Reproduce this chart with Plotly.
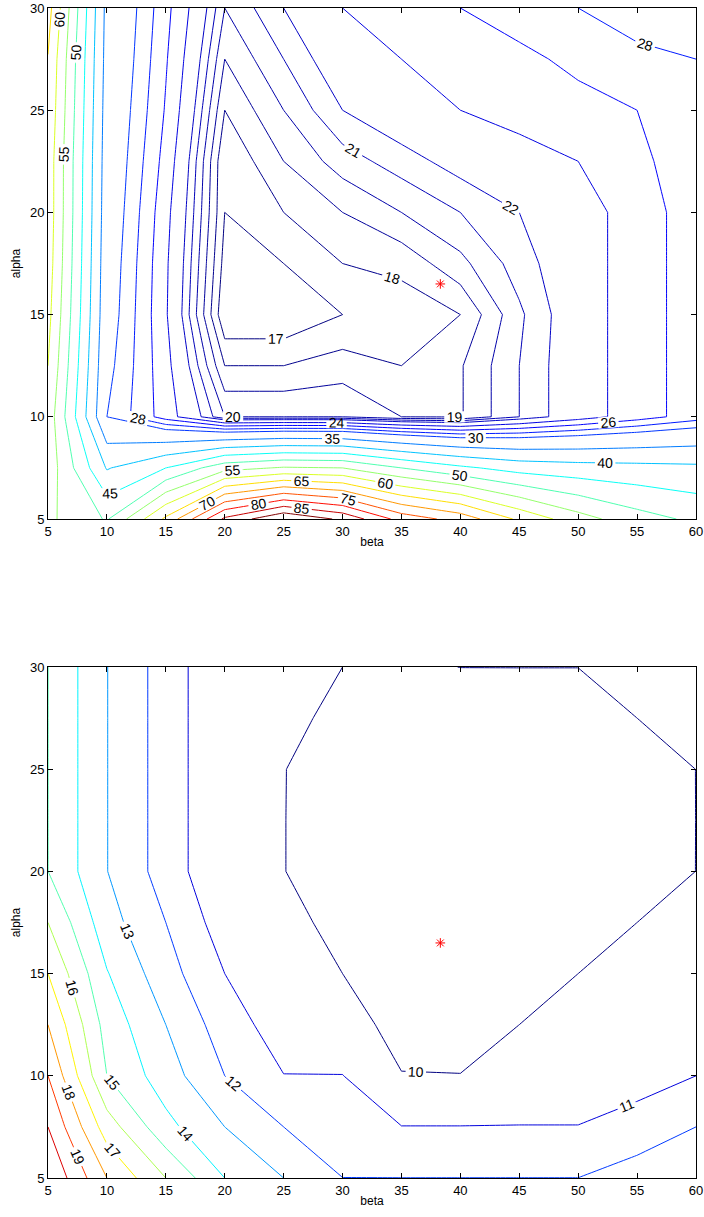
import plotly.graph_objects as go

# Parameter grid (columns = beta, rows = alpha)
beta = [5, 10, 15, 20, 25, 30, 35, 40, 45, 50, 55, 60]
alpha = [5, 7.5, 10, 12.5, 15, 17.5, 20, 22.5, 25, 27.5, 30]

# Upper panel: error surface, one row per alpha value (alpha = 5 first)
err_upper = [
    [56.0, 49.5, 66.0, 86.0, 94.7, 89.0, 78.0, 73.0, 64.0, 57.0, 52.0, 49.0],
    [58.0, 39.6, 45.0, 53.2, 55.5, 55.0, 50.0, 46.0, 43.0, 42.0, 41.5, 41.0],
    [58.0, 30.0, 25.0, 20.0, 20.0, 20.0, 19.0, 18.9, 21.0, 23.0, 25.0, 27.0],
    [60.0, 30.8, 24.6, 18.0, 18.0, 18.47, 18.0, 18.9, 21.0, 23.0, 25.0, 27.0],
    [61.5, 31.5, 24.2, 16.1, 16.1, 17.0, 17.4, 18.0, 20.8, 23.0, 25.0, 27.0],
    [62.5, 31.8, 24.3, 16.6, 17.0, 18.0, 18.3, 19.7, 21.5, 23.0, 25.0, 27.0],
    [63.0, 32.2, 24.6, 17.0, 18.0, 19.0, 20.0, 21.0, 22.0, 23.0, 25.0, 27.0],
    [63.0, 32.5, 25.2, 17.05, 19.0, 20.5, 21.5, 22.5, 23.2, 24.0, 25.6, 27.0],
    [64.0, 32.8, 25.8, 18.0, 20.0, 22.0, 23.0, 24.0, 24.7, 25.3, 26.0, 27.2],
    [64.8, 33.2, 26.2, 19.0, 21.0, 23.0, 24.0, 25.0, 25.5, 26.5, 27.5, 28.0],
    [67.0, 33.5, 26.6, 20.0, 22.0, 24.0, 25.0, 26.0, 27.0, 28.0, 29.0, 30.0],
]

# Lower panel: error surface, same layout
err_lower = [
    [20.95, 18.0, 16.0, 14.0, 13.0, 12.005, 12.005, 12.005, 12.005, 12.005, 12.4, 12.8],
    [20.0, 16.5, 14.3, 13.0, 12.0, 11.5, 11.02, 11.02, 11.02, 11.02, 11.5, 12.0],
    [19.0, 15.0, 13.47, 12.0, 11.02, 11.02, 10.02, 10.02, 10.5, 10.5, 10.5, 11.0],
    [18.0, 14.6, 13.0, 11.5, 10.5, 10.25, 9.8, 9.6, 10.0, 10.3, 10.5, 10.75],
    [17.0, 14.06, 12.4, 11.0, 10.5, 10.0, 9.6, 9.5, 9.7, 10.0, 10.3, 10.5],
    [16.0, 13.4, 12.0, 10.5, 10.5, 9.5, 9.5, 9.4, 9.5, 9.7, 10.0, 10.25],
    [15.005, 13.02, 11.55, 10.1, 10.02, 9.5, 9.3, 9.2, 9.3, 9.5, 9.7, 10.003],
    [15.005, 13.02, 11.55, 10.1, 10.02, 9.5, 9.3, 9.2, 9.3, 9.4, 9.6, 10.003],
    [15.005, 13.02, 11.55, 10.1, 10.02, 9.6, 9.4, 9.3, 9.4, 9.5, 9.7, 10.003],
    [15.005, 13.02, 11.55, 10.1, 10.1, 9.9, 9.6, 9.6, 9.7, 9.7, 10.0, 10.3],
    [15.005, 13.02, 11.55, 10.1, 10.15, 10.0, 9.9, 10.005, 10.005, 10.005, 10.3, 10.6],
]

# Contour level groups (start, end, step)
levels_upper = [(17, 22, 1), (24, 30, 2), (35, 90, 5)]
levels_lower = [(10, 20, 1)]
color_range_upper = (17, 90)
color_range_lower = (10, 21)

# Selected (beta, alpha) point
best_beta = [38.3]
best_alpha = [16.5]

FONT = "Liberation Sans, Arial, Helvetica, sans-serif"


def jet(v, lo, hi):
    """MATLAB-style jet colour for value v on the range [lo, hi]."""
    t = min(max((v - lo) / (hi - lo), 0.0), 1.0)

    def ch(c):
        return int(round(255 * min(max(1.5 - abs(4 * t - c), 0.0), 1.0)))

    return "rgb(%d,%d,%d)" % (ch(3), ch(2), ch(1))


def group_scale(start, end, step, crange):
    """Colour stops giving each level of a group its jet colour."""
    n = int(round((end - start) / step))
    return [[k / n, jet(start + k * step, *crange)] for k in range(n + 1)]


fig = go.Figure()


def add_panel(z, groups, crange, xa, ya):
    for start, end, step in groups:
        fig.add_trace(go.Contour(
            x=beta, y=alpha, z=z,
            xaxis=xa, yaxis=ya,
            autocontour=False,
            contours=dict(start=start, end=end, size=step, coloring="lines",
                          showlabels=True,
                          labelfont=dict(family=FONT, size=14, color="black")),
            colorscale=group_scale(start, end, step, crange),
            line=dict(width=1, smoothing=0),
            showscale=False, hoverinfo="skip",
        ))
    fig.add_trace(go.Scatter(
        x=best_beta, y=best_alpha, xaxis=xa, yaxis=ya, mode="markers",
        marker=dict(symbol="asterisk-open", size=8, color="red",
                    line=dict(color="red", width=1)),
        showlegend=False, hoverinfo="skip",
    ))


add_panel(err_upper, levels_upper, color_range_upper, "x", "y")
add_panel(err_lower, levels_lower, color_range_lower, "x2", "y2")

W, H = 704, 1217
x_dom = [48 / W, 696 / W]
y_dom_top = [1 - 519 / H, 1 - 8 / H]
y_dom_bot = [1 - 1178 / H, 1 - 667 / H]

axis_common = dict(
    showline=True, linecolor="black", linewidth=1, mirror="ticks",
    ticks="inside", ticklen=5, tickcolor="black", tickwidth=1,
    showgrid=False, zeroline=False, automargin=False,
    tickfont=dict(family=FONT, size=13, color="black"),
)
xticks = list(range(5, 61, 5))
yticks = list(range(5, 31, 5))
title_font = dict(family=FONT, size=12, color="black")

fig.update_layout(
    width=W, height=H,
    margin=dict(l=0, r=0, t=0, b=0),
    paper_bgcolor="white", plot_bgcolor="white",
    showlegend=False,
    xaxis=dict(domain=x_dom, range=[5, 60], tickvals=xticks, anchor="y",
               title=dict(text="beta", font=title_font, standoff=0), **axis_common),
    yaxis=dict(domain=y_dom_top, range=[5, 30], tickvals=yticks, anchor="x",
               title=dict(text="alpha", font=title_font, standoff=6), **axis_common),
    xaxis2=dict(domain=x_dom, range=[5, 60], tickvals=xticks, anchor="y2",
                title=dict(text="beta", font=title_font, standoff=0), **axis_common),
    yaxis2=dict(domain=y_dom_bot, range=[5, 30], tickvals=yticks, anchor="x2",
                title=dict(text="alpha", font=title_font, standoff=6), **axis_common),
)

fig.write_html("out.html")
